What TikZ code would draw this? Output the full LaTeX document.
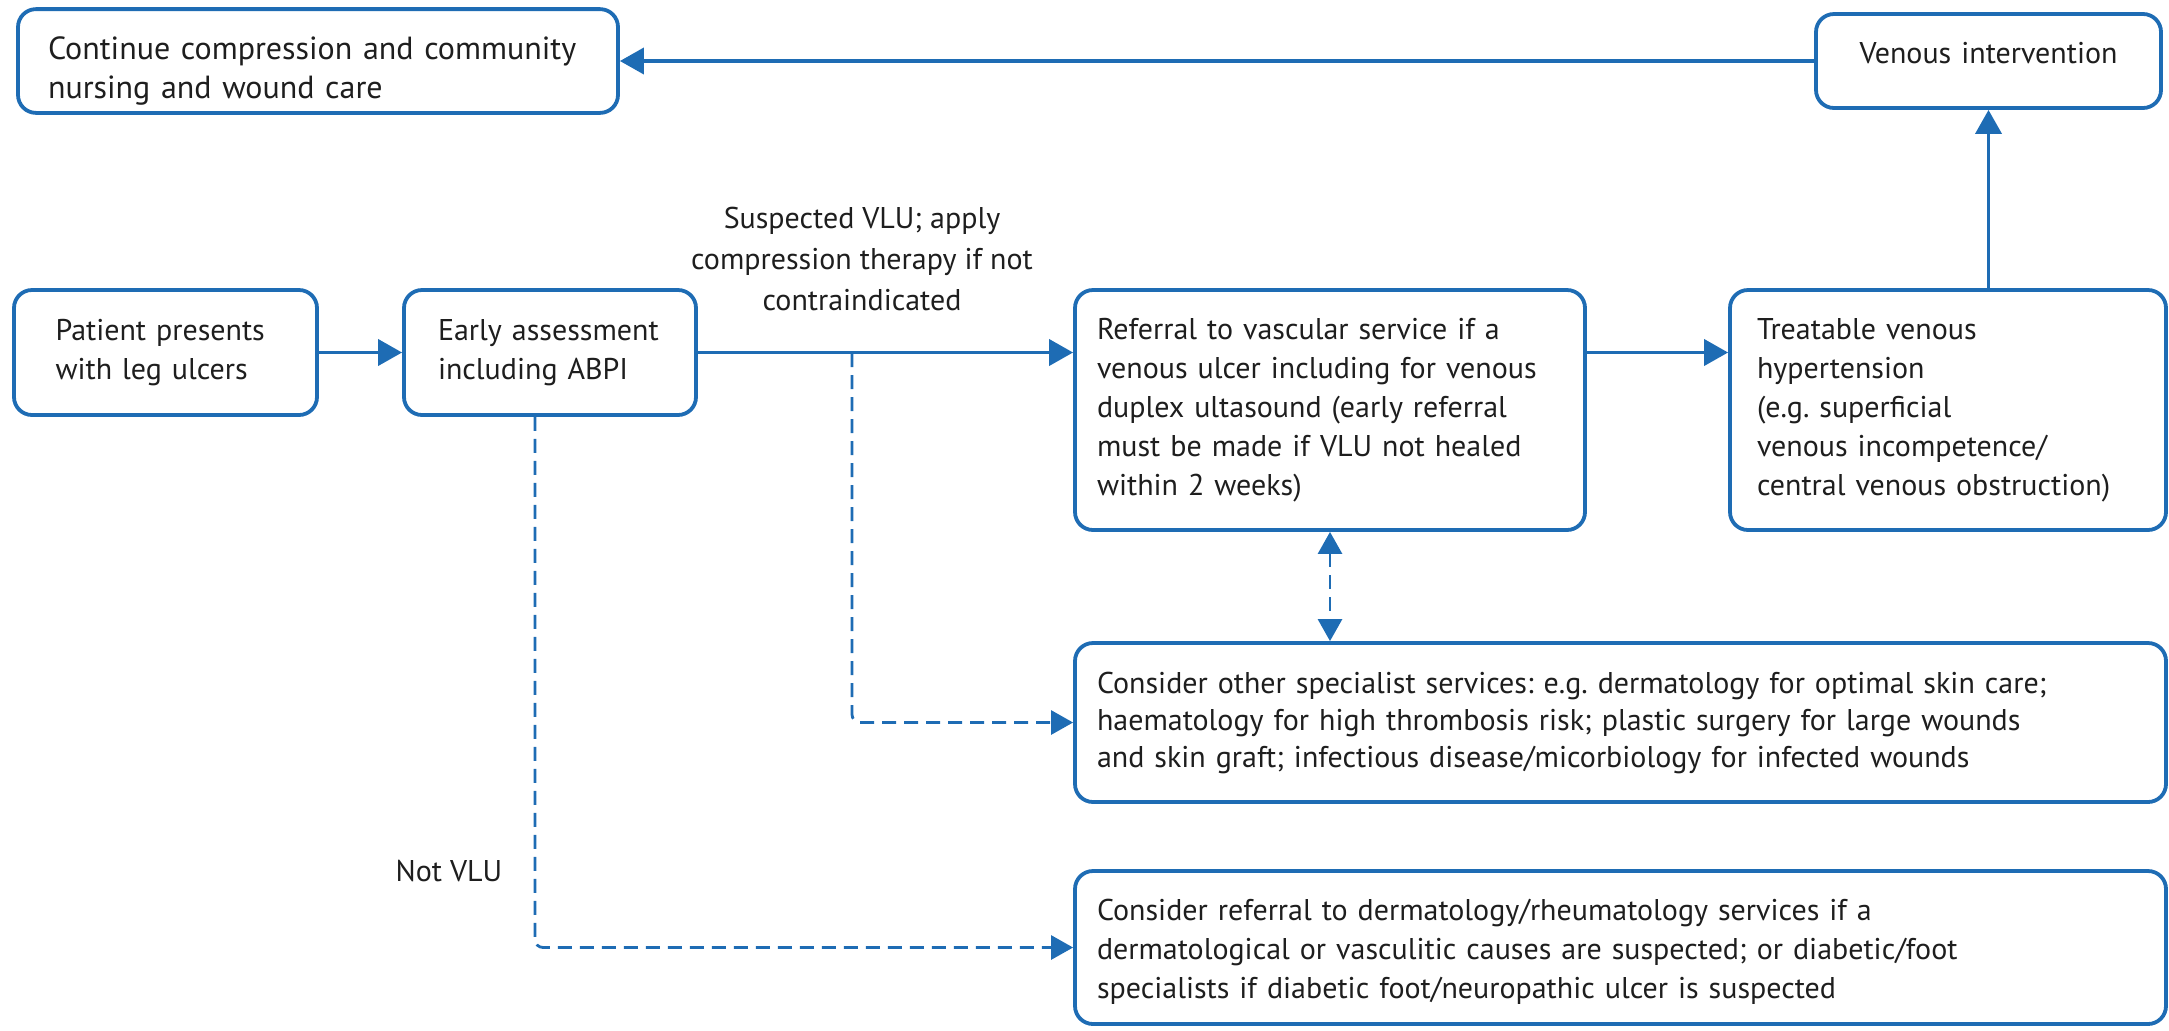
\documentclass[tikz,border=0pt]{standalone}
\usepackage{fontspec}
\setmainfont{PT Sans}
\frenchspacing
\usetikzlibrary{arrows.meta}
\definecolor{bmjblue}{RGB}{30,108,180}
\definecolor{txt}{RGB}{30,30,30}
\begin{document}
\begin{tikzpicture}[x=0.5pt,y=-0.5pt,
  box/.style={draw=bmjblue, line width=1.9pt, rounded corners=9pt, fill=white,
    text=txt, align=left, inner xsep=0pt, inner ysep=4pt,
    font=\fontsize{15}{19.5}\selectfont},
  arr/.style={draw=bmjblue, line width=1.9pt, -{Triangle[length=12pt,width=13pt]}},
  dsh/.style={draw=bmjblue, line width=1.4pt, dash pattern=on 7pt off 4pt, rounded corners=4pt,
    -{Triangle[length=11pt,width=12pt]}},
  dsh2/.style={draw=bmjblue, line width=1.4pt, dash pattern=on 7pt off 4pt,
    {Triangle[length=11pt,width=12pt]}-{Triangle[length=11pt,width=12pt]}},
  lbl/.style={text=txt, align=center, font=\fontsize{15}{20.5}\selectfont, inner sep=0pt}]
\useasboundingbox (0,0) rectangle (2169,1030);

\node[box, minimum width=300pt, minimum height=47pt, text width=270pt,
  font=\fontsize{16}{19.5}\selectfont] (cont) at (318,61)
  {\rule{0pt}{21pt}Continue compression and community\\nursing and wound care};
\node[box, minimum width=172.5pt, minimum height=47pt, text width=150pt, align=center] (vi) at (1988.5,61)
  {\raisebox{8pt}{Venous intervention}};
\node[box, minimum width=151.5pt, minimum height=62.5pt, text width=110pt] (pat) at (165.5,352.5)
  {Patient presents\\with leg ulcers};
\node[box, minimum width=146pt, minimum height=62.5pt, text width=112pt] (early) at (550,352.5)
  {Early assessment\\including ABPI};
\node[box, minimum width=255pt, minimum height=120pt, text width=233pt] (ref) at (1330,410)
  {Referral to vascular service if a\\venous ulcer including for venous\\duplex ultasound (early referral\\must be made if VLU not healed\\within 2 weeks)};
\node[box, minimum width=218pt, minimum height=120pt, text width=191pt] (treat) at (1948,410)
  {Treatable venous\\hypertension\\(e.g. superficial\\venous incompetence/\\central venous obstruction)};
\node[box, minimum width=545.5pt, minimum height=79.5pt, text width=523.5pt,
  font=\fontsize{15}{18.5}\selectfont] (other) at (1620.5,722.5)
  {Consider other specialist services: e.g. dermatology for optimal skin care;\\haematology for high thrombosis risk; plastic surgery for large wounds\\and skin graft; infectious disease/micorbiology for infected wounds};
\node[box, minimum width=545.5pt, minimum height=76.5pt, text width=523.5pt] (last) at (1620.5,947.5)
  {\rule{0pt}{15pt}Consider referral to dermatology/rheumatology services if a\\dermatological or vasculitic causes are suspected; or diabetic/foot\\specialists if diabetic foot/neuropathic ulcer is suspected};

\node[lbl] (susp) at (862,259) {Suspected VLU; apply\\compression therapy if not\\contraindicated};
\node[lbl] (notvlu) at (449,871) {Not VLU};

\coordinate (br) at (852,353);
\coordinate (nvtop) at ([xshift=-7.5pt]early.south);

\draw[arr] (vi.west |- cont.east) -- (cont.east);
\draw[arr] (pat.east) -- (early.west);
\draw[arr] (early.east) -- (early.east -| ref.west);
\draw[arr] (early.east -| ref.east) -- (early.east -| treat.west);
\draw[arr] (vi.south |- treat.north) -- (vi.south);
\draw[dsh2] (ref.south) -- (ref.south |- other.north);
\draw[dsh] (br) |- (other.west);
\draw[dsh] (nvtop) |- (last.west);
\end{tikzpicture}
\end{document}
